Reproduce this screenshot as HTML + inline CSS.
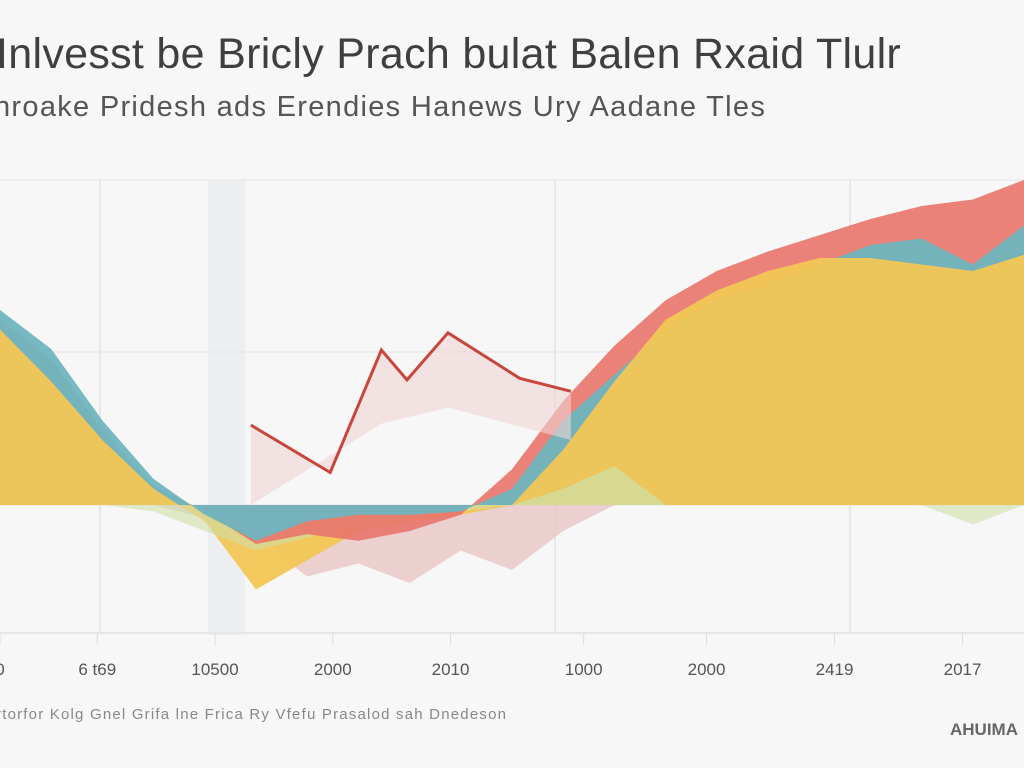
<!DOCTYPE html>
<html><head><meta charset="utf-8"><style>
html,body{margin:0;padding:0;background:#f7f7f7;}
body{width:1024px;height:768px;overflow:hidden;position:relative;font-family:"Liberation Sans",sans-serif;}
.t{position:absolute;white-space:nowrap;}
</style></head><body>
<div class="t" style="left:-4px;top:30px;font-size:43px;color:#3f3f3f;letter-spacing:0.3px;">Inlvesst be Bricly Prach bulat Balen Rxaid Tlulr</div>
<div class="t" style="left:-6px;top:91px;font-size:29px;color:#555;letter-spacing:1.3px;">nroake Pridesh ads Erendies Hanews Ury Aadane Tles</div>
<svg id="chart" width="1024" height="768" style="position:absolute;left:0;top:0" xmlns="http://www.w3.org/2000/svg">
<defs>
<clipPath id="pos"><rect x="0" y="0" width="1024" height="505"/></clipPath>
<clipPath id="neg"><rect x="0" y="505" width="1024" height="263"/></clipPath>
</defs>
</svg>
<div class="t" style="left:-4px;top:706px;font-size:15px;color:#888;letter-spacing:1.2px;">rtorfor Kolg Gnel Grifa lne Frica Ry Vfefu Prasalod sah Dnedeson</div>
<div class="t" style="left:950px;top:720px;font-size:17px;font-weight:bold;color:#666;">AHUIMA</div>
<script>
const years=[1980,1982,1984,1986,1988,1990,1992,1994,1996,1998,2000,2002,2004,2006,2008,2010,2012,2014,2016,2018,2020];
const redSeries=[57,45,23,6,-2,-12,-9,-11,-8,-3,11,32,49,63,72,78,83,88,92,94,100];
const tealSeries=[60,48,26,8,-3,-11,-5,-3,-3,-2,5,26,40,54,63,68,74,80,82,74,86];
const yellowSeries=[54,38,20,5,-5,-26,-17,-8,-5,-3,0,17,38,57,66,72,76,76,74,72,77];
const greenSeries=[0,0,0,-2,-8,-14,-10,-6,-4,-2,0,5,12,0,0,0,0,0,0,-6,0];
const pinkSeries=[0,0,0,0,-4,-10,-22,-18,-24,-14,-20,-8,0,0,0,0,0,0,0,0,0];
const lineYears=[1989.8,1992.9,1994.9,1995.9,1997.5,2000.3,2002.3];
const lineValues=[24.6,10,47.7,38.5,53,39,35];
const tickLabels=["0","6 t69","10500","2000","2010","1000","2000","2419","2017","2"];
const tickYears=[1980,1983.8,1988.4,1993,1997.6,2002.8,2007.6,2012.6,2017.6,2020.2];

const svg=document.getElementById('chart');
const NS='http://www.w3.org/2000/svg';
const xS=y=>(y-1980)/40*1024;
const yS=v=>505-v*3.25;
function mk(tag,attrs){const e=document.createElementNS(NS,tag);for(const k in attrs)e.setAttribute(k,attrs[k]);svg.appendChild(e);return e;}

const band=mk('rect',{x:208,y:180,width:37,height:455,fill:'#eceef0'});


[180,352,505,633].forEach(y=>{const l=mk('line',{x1:0,x2:1024,y1:y,y2:y,stroke:'#e6e6e6','stroke-width':y===633?2:1});

});
[100,555,850].forEach(x=>{const l=mk('line',{x1:x,x2:x,y1:180,y2:633,stroke:'#e4e4e4','stroke-width':1.5});

});

function area(vals,fill,op,name,clip){
  let d='M'+xS(years[0])+','+yS(0);
  vals.forEach((v,i)=>{d+=' L'+xS(years[i]).toFixed(1)+','+yS(v).toFixed(1);});
  d+=' L'+xS(years[years.length-1])+','+yS(0)+' Z';
  const p=mk('path',{d:d,fill:fill,'fill-opacity':op,'stroke-linejoin':'round','clip-path':'url(#'+clip+')'});
  
  
}
area(redSeries,'#e8746a',0.9,'red-area','pos');
area(tealSeries,'#6fb5bf',0.95,'teal-area','pos');
area(yellowSeries,'#f2c655',0.95,'yellow-area','pos');
area(greenSeries,'#cfe0a8',0.7,'green-area','pos');
area(pinkSeries,'#e8c4c4',0.8,'pink-area','neg');
area(yellowSeries,'#f2c655',0.95,'yellow-area-neg','neg');
area(greenSeries,'#cfe0a8',0.6,'green-area-neg','neg');
area(redSeries,'#e8746a',0.9,'red-area-neg','neg');
area(tealSeries,'#6fb5bf',0.95,'teal-area-neg','neg');

let pd='M'+xS(lineYears[0])+','+yS(0);
lineValues.forEach((v,i)=>{pd+=' L'+xS(lineYears[i]).toFixed(1)+','+yS(v).toFixed(1);});
pd+=' L'+xS(lineYears[lineYears.length-1])+','+yS(20)+' L'+xS(lineYears[4])+','+yS(30)+' L'+xS(lineYears[2])+','+yS(25)+' Z';
const pb=mk('path',{d:pd,fill:'#f0d4d4','fill-opacity':0.6});


const pts=lineYears.map((y,i)=>xS(y).toFixed(1)+','+yS(lineValues[i]).toFixed(1)).join(' ');
const pl=mk('polyline',{points:pts,fill:'none',stroke:'#c8463c','stroke-width':3,'stroke-linejoin':'miter'});



tickLabels.forEach((t,i)=>{
  const x=xS(tickYears[i]);
  const tk=mk('line',{x1:x,x2:x,y1:633,y2:645,stroke:'#ddd'});
  
  
  const tx=mk('text',{x:x,y:675,'text-anchor':'middle','font-size':17,fill:'#555','font-family':'Liberation Sans, sans-serif'});
  tx.textContent=t;
  
  
});
</script>
</body></html>
